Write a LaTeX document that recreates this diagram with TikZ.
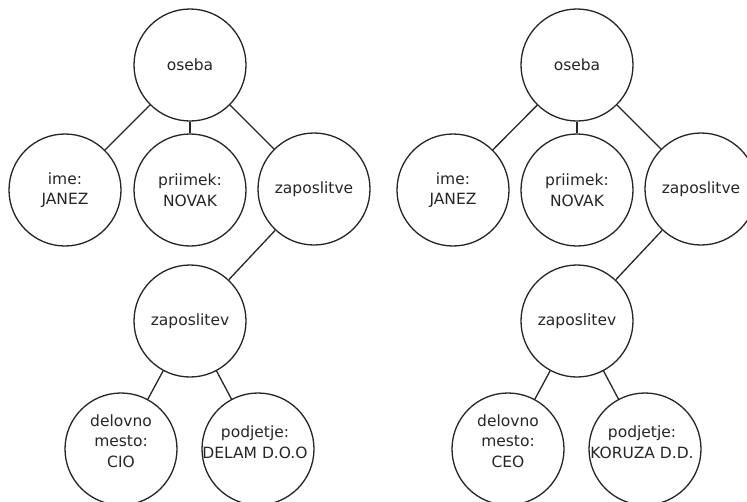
\documentclass[tikz,border=0pt]{standalone}
\usepackage{fontspec}
\setmainfont{DejaVu Sans}
\begin{document}
\begin{tikzpicture}[x=1pt,y=-1pt,
  ball/.style={circle,draw=black!85,line width=1.3pt,minimum size=112pt,
    inner sep=0pt,align=center,text=black!85,
    font=\fontsize{15.5}{20.5}\selectfont},
  lbl/.style={align=center,inner sep=0pt,text=black!85,
    font=\fontsize{15.5}{20.5}\selectfont},
  link/.style={draw=black!85,line width=1.3pt}]
\useasboundingbox (0,0) rectangle (747,501);
\fill[white] (0,0) rectangle (747,501);

% first person: Janez Novak at Delam
\node[ball] (os1) at (190,65)  {oseba};
\node[ball] (im1) at (65,190)  {ime:\\JANEZ};
\node[ball] (pr1) at (190,190) {priimek:\\NOVAK};
\node[ball] (zs1) at (314,189) {zaposlitve};
\node[ball] (zp1) at (190,321) {zaposlitev};
\node[ball] (dm1) at (121,449) {};
\node[ball] (pj1) at (258,449) {};
\node[lbl] (dmt1) at ([yshift=8pt]dm1.center) {delovno\\mesto:\\CIO};
\node[lbl] (pjt1) at ([xshift=-3pt,yshift=7pt]pj1.center) {podjetje:\\DELAM D.O.O};
\draw[link] (os1) -- (im1);
\draw[link] (os1) -- (pr1);
\draw[link] (os1) -- (zs1);
\draw[link] (zs1) -- (zp1);
\draw[link] (zp1) -- (dm1);
\draw[link] (zp1) -- (pj1);

% second person: Janez Novak at Koruza
\node[ball] (os2) at (577,65)  {oseba};
\node[ball] (im2) at (453,190) {ime:\\JANEZ};
\node[ball] (pr2) at (577,190) {priimek:\\NOVAK};
\node[ball] (zs2) at (701,189) {zaposlitve};
\node[ball] (zp2) at (577,321) {zaposlitev};
\node[ball] (dm2) at (508,449) {};
\node[ball] (pj2) at (645,449) {};
\node[lbl] (dmt2) at ([yshift=8pt]dm2.center) {delovno\\mesto:\\CEO};
\node[lbl] (pjt2) at ([xshift=-3pt,yshift=7pt]pj2.center) {podjetje:\\KORUZA D.D.};
\draw[link] (os2) -- (im2);
\draw[link] (os2) -- (pr2);
\draw[link] (os2) -- (zs2);
\draw[link] (zs2) -- (zp2);
\draw[link] (zp2) -- (dm2);
\draw[link] (zp2) -- (pj2);
\end{tikzpicture}
\end{document}
